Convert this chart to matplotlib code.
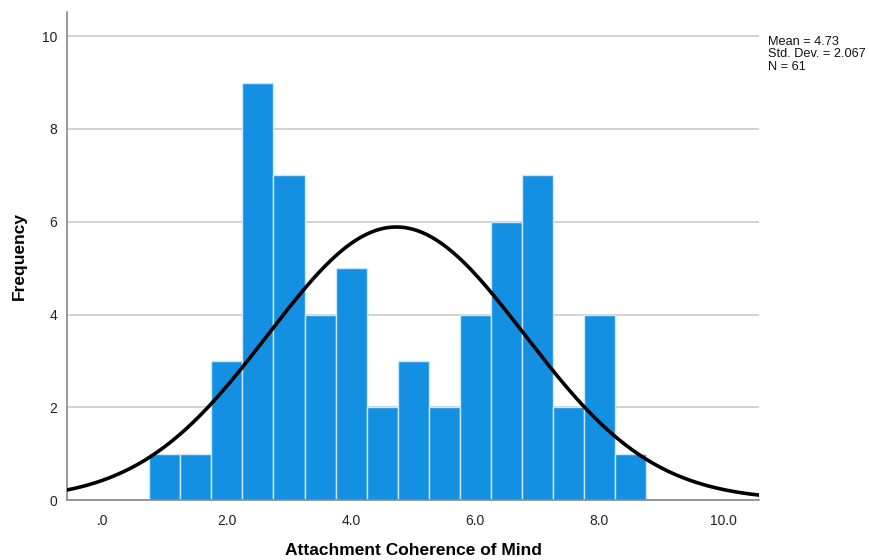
import numpy as np
import matplotlib
matplotlib.use("Agg")
import matplotlib.pyplot as plt
from matplotlib.ticker import FuncFormatter

plt.rcParams['font.family'] = ['Liberation Sans', 'DejaVu Sans']

# Histogram data: bin edges start, bin width and counts
bin_start = 0.75
bin_width = 0.5
counts = [1, 1, 3, 9, 7, 4, 5, 2, 3, 2, 4, 6, 7, 2, 4, 1]
mean = 4.73
std_dev = 2.067
n_obs = 61
x_ticks = [0, 2, 4, 6, 8, 10]
y_ticks = [0, 2, 4, 6, 8, 10]

fig = plt.figure(figsize=(8.7, 5.6), dpi=100)
ax = fig.add_axes([0.077, 0.107, 0.7955, 0.8715])

edges = bin_start + bin_width * np.arange(len(counts) + 1)
ax.bar(edges[:-1], counts, width=bin_width, align='edge',
       color='#1490E3', edgecolor='#CFE6F7', linewidth=1.0, zorder=2)

# Fitted normal curve scaled to counts
xs = np.linspace(-0.6, 10.6, 400)
pdf = np.exp(-0.5 * ((xs - mean) / std_dev) ** 2) / (std_dev * np.sqrt(2 * np.pi))
ax.plot(xs, pdf * n_obs * bin_width, color='black', linewidth=2.6, zorder=3)

ax.set_xlim(-0.58, 10.58)
ax.set_ylim(0, 10.52)
ax.set_xticks(x_ticks)
ax.xaxis.set_major_formatter(FuncFormatter(lambda v, p: '.0' if v == 0 else '%.1f' % v))
ax.set_yticks(y_ticks)
ax.tick_params(axis='both', length=0, labelsize=10, colors='#222222')
ax.tick_params(axis='x', pad=10)
ax.tick_params(axis='y', pad=7)

ax.yaxis.grid(True, color='#CCCCCC', linewidth=1.2, zorder=0)
ax.set_axisbelow(True)
for side in ['top', 'right']:
    ax.spines[side].set_visible(False)
for side in ['left', 'bottom']:
    ax.spines[side].set_color('#888888')
    ax.spines[side].set_linewidth(1.2)

ax.set_xlabel('Attachment Coherence of Mind', fontsize=12.5, fontweight='bold', labelpad=11)
ax.set_ylabel('Frequency', fontsize=12.5, fontweight='bold', labelpad=11)

fig.text(0.883, 0.936, 'Mean = %.2f\nStd. Dev. = %.3f\nN = %d' % (mean, std_dev, n_obs),
         fontsize=9.2, va='top', ha='left', linespacing=1.05, color='#111111')

fig.savefig('out.png', dpi=100)
